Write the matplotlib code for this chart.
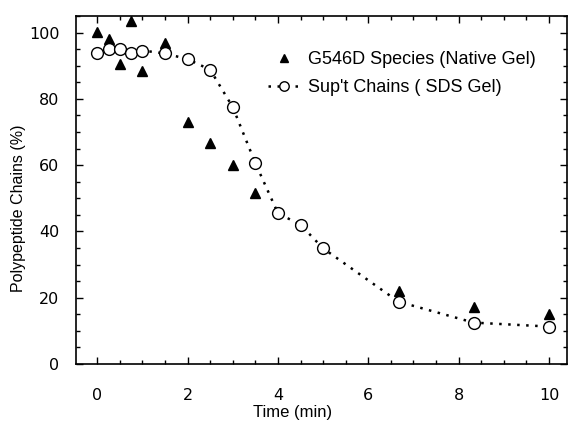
import matplotlib
matplotlib.use("Agg")
import matplotlib.pyplot as plt
from matplotlib.ticker import MultipleLocator

plt.rcParams['font.family'] = ['Liberation Sans', 'DejaVu Sans']

# G546D Species (Native Gel)
tri_x = [0, 0.25, 0.5, 0.75, 1.0, 1.5, 2.0, 2.5, 3.0, 3.5, 6.67, 8.33, 10.0]
tri_y = [100.2, 98.0, 90.5, 103.5, 88.5, 96.8, 73.0, 66.8, 60.2, 51.7, 22.1, 17.1, 15.0]

# Sup't Chains (SDS Gel)
circ_x = [0, 0.25, 0.5, 0.75, 1.0, 1.5, 2.0, 2.5, 3.0, 3.5, 4.0, 4.5, 5.0, 6.67, 8.33, 10.0]
circ_y = [93.8, 95.0, 95.0, 93.7, 94.6, 93.7, 92.0, 88.8, 77.5, 60.6, 45.5, 42.0, 34.9, 18.8, 12.5, 11.3]

xticks = [0, 2, 4, 6, 8, 10]
yticks = [0, 20, 40, 60, 80, 100]

fig = plt.figure(figsize=(5.69, 4.22), dpi=100)
ax = fig.add_axes([0.1336, 0.1374, 0.863, 0.8246])

ax.plot(circ_x, circ_y, color='black', linestyle=(0, (1, 2.6)), linewidth=1.8,
        marker='o', markersize=8.5, markerfacecolor='white', markeredgecolor='black',
        markeredgewidth=1.0, label="Sup't Chains ( SDS Gel)", zorder=3)
ax.plot(tri_x, tri_y, linestyle='none', marker='^', markersize=7.5, color='black',
        label='G546D Species (Native Gel)', zorder=2)

ax.set_xlim(-0.47, 10.4)
ax.set_ylim(0, 105)
ax.set_xticks(xticks)
ax.set_yticks(yticks)
ax.xaxis.set_minor_locator(MultipleLocator(0.5))
ax.yaxis.set_minor_locator(MultipleLocator(5))
ax.tick_params(which='both', direction='in', top=True, right=True)
ax.tick_params(which='major', length=5, width=1)
ax.tick_params(which='minor', length=3, width=1)
ax.tick_params(axis='x', which='major', pad=17)
ax.tick_params(axis='y', which='major', pad=12)
for lab in ax.get_xticklabels() + ax.get_yticklabels():
    lab.set_fontfamily('DejaVu Sans')
    lab.set_fontsize(11.5)
for s in ax.spines.values():
    s.set_linewidth(1.2)

ax.set_xlabel('Time (min)', fontsize=12)
ax.xaxis.set_label_coords(0.44, -0.118)
ax.set_ylabel('Polypeptide Chains (%)', fontsize=11.5)
ax.yaxis.set_label_coords(-0.102, 0.448)

h, l = ax.get_legend_handles_labels()
ax.legend([h[1], h[0]], [l[1], l[0]], loc='upper left', bbox_to_anchor=(0.391, 0.90),
          frameon=False, fontsize=13, handlelength=1.8, handletextpad=0.4,
          labelspacing=0.62, borderaxespad=0, borderpad=0, markerscale=0.8)

fig.savefig('out.png', dpi=100)
